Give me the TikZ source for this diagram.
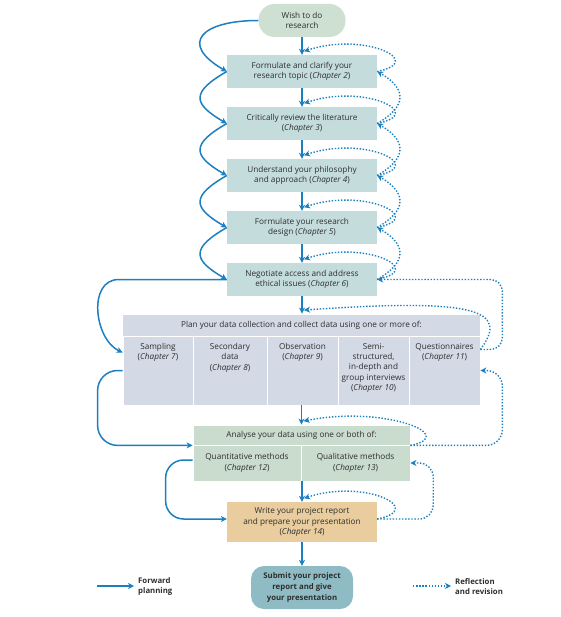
\documentclass[tikz,border=0pt]{standalone}
\usepackage{fontspec}
\setsansfont{Open Sans}
\usetikzlibrary{arrows.meta}
\definecolor{arrowblue}{HTML}{1B7FC0}
\definecolor{wishclr}{HTML}{CDE0D2}
\definecolor{stepclr}{HTML}{C5DCDD}
\definecolor{dataclr}{HTML}{D4D9E6}
\definecolor{anaclr}{HTML}{C9DCCE}
\definecolor{writeclr}{HTML}{E9CD9F}
\definecolor{submitclr}{HTML}{8EBBC4}
\definecolor{txtclr}{HTML}{2E2E2E}
\newcommand\celltext[2]{\parbox[c][55pt][t]{#1}{\centering #2}}
\begin{document}
\begin{tikzpicture}[x=1pt, y=1pt, >={Stealth[length=6pt,width=6pt,inset=1.8pt]},
    every node/.style={font=\sffamily\fontsize{8.2}{10.4}\selectfont, text=txtclr, align=center, inner sep=0pt},
    pill/.style={rounded corners=16pt},
    stepbox/.style={fill=stepclr, minimum width=150pt, minimum height=33pt},
    cell/.style={fill=dataclr, draw=white, line width=0.8pt, minimum height=69pt},
    anabox/.style={fill=anaclr, draw=white, line width=0.8pt},
    lgd/.style={anchor=west, align=left, font=\sffamily\bfseries\fontsize{7.8}{10.3}\selectfont},
    fwd/.style={->, color=arrowblue, line width=1.5pt},
    refl/.style={->, color=arrowblue, line width=1.4pt, dash pattern=on 1.4pt off 1.7pt}]
    \useasboundingbox (0,0) rectangle (560,-617);
    \node[pill, fill=wishclr, minimum width=87pt, minimum height=33pt] (wish) at (302,-20.5) {Wish to do\\research};
    \node[stepbox] (b1) at (302,-71.5) {Formulate and clarify your\\research topic (\textit{Chapter 2})};
    \node[stepbox] (b2) at (302,-123.5) {Critically review the literature\\(\textit{Chapter 3})};
    \node[stepbox] (b3) at (302,-175.5) {Understand your philosophy\\and approach (\textit{Chapter 4})};
    \node[stepbox] (b4) at (302,-227.5) {Formulate your research\\design (\textit{Chapter 5})};
    \node[stepbox] (b5) at (302,-279.5) {Negotiate access and address\\ethical issues (\textit{Chapter 6})};
    \node[cell, minimum width=358pt, minimum height=22pt] (plan) at (301.5,-325) {Plan your data collection and collect data using one or more of:};
    \node[cell, minimum width=70pt] (samp) at (158,-370.5) {\celltext{68pt}{Sampling\\(\textit{Chapter 7})}};
    \node[cell, minimum width=74pt] (secd) at (230,-370.5) {\celltext{72pt}{Secondary\\data\\(\textit{Chapter 8})}};
    \node[cell, minimum width=71pt] (obs) at (302.5,-370.5) {\celltext{69pt}{Observation\\(\textit{Chapter 9})}};
    \node[cell, minimum width=71pt] (intv) at (373.5,-370.5) {\celltext{70pt}{Semi-\\structured,\\in-depth and\\group interviews\\(\textit{Chapter 10})}};
    \node[cell, minimum width=71pt] (quest) at (444.5,-370.5) {\celltext{70pt}{Questionnaires\\(\textit{Chapter 11})}};
    \node[anabox, minimum width=217pt, minimum height=20pt] (ahead) at (301.5,-435) {Analyse your data using one or both of:};
    \node[anabox, minimum width=108pt, minimum height=36pt] (quan) at (247,-463) {Quantitative methods\\(\textit{Chapter 12})};
    \node[anabox, minimum width=109pt, minimum height=36pt] (qual) at (355.5,-463) {Qualitative methods\\(\textit{Chapter 13})};
    \node[fill=writeclr, minimum width=150pt, minimum height=40pt] (write) at (302,-522) {Write your project report\\and prepare your presentation\\(\textit{Chapter 14})};
    \node[pill, rounded corners=13pt, fill=submitclr, minimum width=102pt, minimum height=43pt,
        font=\sffamily\bfseries\fontsize{7.8}{10.8}\selectfont] (submit) at (302,-587.5) {Submit your project\\report and give\\your presentation};
    \coordinate (t1) at ([xshift=2pt,yshift=3.5pt]b1.north);
    \coordinate (t2) at ([xshift=2pt,yshift=3.5pt]b2.north);
    \coordinate (t3) at ([xshift=2pt,yshift=3.5pt]b3.north);
    \coordinate (t4) at ([xshift=2pt,yshift=3.5pt]b4.north);
    \coordinate (t5) at ([xshift=2pt,yshift=3.5pt]b5.north);
    \coordinate (t6) at ([xshift=2.5pt,yshift=3.5pt]plan.north);
    \coordinate (t7) at ([xshift=2pt,yshift=3.5pt]ahead.north);
    \coordinate (t8) at ([xshift=2pt,yshift=3.5pt]write.north);
    \coordinate (qs) at ([yshift=21pt]quest.east);
    \coordinate (si) at ([yshift=18pt]samp.west);
    \coordinate (we) at ([yshift=3pt]write.east);
    \coordinate (ww) at ([yshift=3pt]write.west);
    \draw[fwd](wish)--(b1);
    \draw[fwd](b1)--(b2);
    \draw[fwd](b2)--(b3);
    \draw[fwd](b3)--(b4);
    \draw[fwd](b4)--(b5);
    \draw[fwd](b5.south)--(b5.south|-plan.north);
    \draw[fwd](ahead.north|-obs.south)--(ahead.north);
    \draw[fwd](write.north|-quan.south)--(write.north);
    \draw[fwd](write)--(submit);
    \draw[fwd](wish.west) to[out=180,in=150,looseness=2.4] (b1.west);
    \draw[fwd](b1.west) to[out=210,in=150,looseness=2] (b2.west);
    \draw[fwd](b2.west) to[out=210,in=150,looseness=2] (b3.west);
    \draw[fwd](b3.west) to[out=210,in=150,looseness=2] (b4.west);
    \draw[fwd](b4.west) to[out=210,in=150,looseness=2] (b5.west);
    \draw[fwd](b5.west)--++(-108,0) to[out=180,in=155,looseness=1.1] (si);
    \draw[fwd, rounded corners=20pt](samp.west)--++(-25,0)|-(ahead.south west);
    \draw[fwd, rounded corners=18pt]([yshift=3pt]quan.west)--++(-27,0)|-(ww);
    \draw[refl](b1.east) .. controls +(50,10) and +(60,20) .. (t1);
    \draw[refl](b2.east) .. controls +(50,10) and +(60,20) .. (t2);
    \draw[refl](b3.east) .. controls +(50,10) and +(60,20) .. (t3);
    \draw[refl](b4.east) .. controls +(50,10) and +(60,20) .. (t4);
    \draw[refl](b5.east) .. controls +(50,10) and +(60,20) .. (t5);
    \draw[refl](b2.east) to[out=30,in=-30,looseness=1.7] (b1.east);
    \draw[refl](b3.east) to[out=30,in=-30,looseness=1.7] (b2.east);
    \draw[refl](b4.east) to[out=30,in=-30,looseness=1.7] (b3.east);
    \draw[refl](b5.east) to[out=30,in=-30,looseness=1.7] (b4.east);
    \draw[refl](qs) .. controls +(30,40) and +(170,12) .. (t6);
    \draw[refl, rounded corners=12pt](qs)--++(22,0)|-(b5.east);
    \draw[refl](ahead.south east) .. controls +(50,10) and +(80,16) .. (t7);
    \draw[refl, rounded corners=16pt](ahead.south east)--++(92,0)|-(quest.east);
    \draw[refl](we) .. controls +(50,10) and +(60,20) .. (t8);
    \draw[refl, rounded corners=14pt](we)--++(56,0)|-(qual.east);
    \coordinate (f0) at (97,-586);
    \coordinate (f1) at (134,-586);
    \draw[fwd](f0)--(f1);
    \node[lgd] (fwdlbl) at (138,-586.5) {Forward\\planning};
    \coordinate (r0) at (413,-586);
    \coordinate (r1) at (451,-586);
    \draw[refl](r0)--(r1);
    \node[lgd] (refllbl) at (455,-586.5) {Reflection\\and revision};
\end{tikzpicture}
\end{document}
